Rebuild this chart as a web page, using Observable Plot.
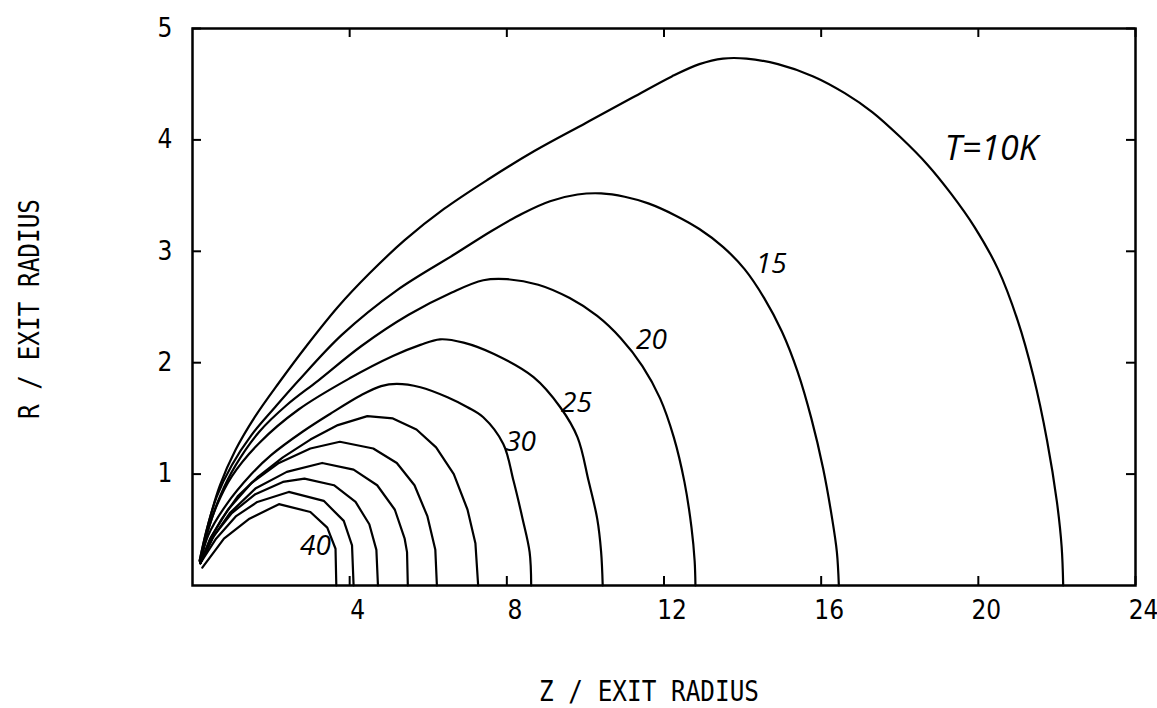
<!DOCTYPE html>
<html>
<head>
<meta charset="utf-8">
<script src="https://cdn.jsdelivr.net/npm/d3@7"></script>
<script src="https://cdn.jsdelivr.net/npm/@observablehq/plot@0.6"></script>
<style>
  html, body { margin: 0; padding: 0; background: #fff; }
</style>
</head>
<body>
<div id="chart"></div>
<script>
// Contours of constant temperature in the (Z, R) plane, outermost first.
// Each is a list of [Z / exit radius, R / exit radius] points.
const contour1 = [[0.18,0.22],[0.4,0.55],[0.7,0.9],[1.1,1.22],[1.6,1.52],[2.2,1.82],[2.9,2.15],[3.7,2.5],[4.5,2.8],[5.4,3.1],[6.4,3.38],[7.5,3.64],[8.7,3.9],[10.0,4.15],[11.2,4.38],[12.2,4.57],[12.9,4.68],[13.5,4.73],[14.1,4.73],[14.9,4.68],[15.8,4.57],[16.6,4.42],[17.3,4.25],[18.0,4.03],[18.7,3.78],[19.3,3.52],[19.9,3.22],[20.5,2.84],[21.0,2.38],[21.4,1.88],[21.75,1.3],[22.0,0.75],[22.12,0.35],[22.16,0]];
const contour2 = [[0.18,0.22],[0.36,0.5],[0.62,0.8],[1.0,1.08],[1.5,1.35],[2.1,1.6],[2.7,1.84],[3.8,2.25],[5.2,2.65],[6.7,2.98],[7.6,3.18],[8.4,3.34],[9.1,3.45],[9.8,3.51],[10.4,3.52],[11.0,3.49],[11.6,3.43],[12.3,3.32],[12.9,3.2],[13.5,3.04],[14.05,2.84],[14.55,2.58],[15.0,2.28],[15.4,1.92],[15.75,1.5],[16.05,1.05],[16.27,0.62],[16.4,0.3],[16.45,0]];
const contour3 = [[0.2,0.22],[0.4,0.5],[0.7,0.8],[1.1,1.08],[1.7,1.38],[2.4,1.62],[3.2,1.84],[4.3,2.15],[5.5,2.43],[6.6,2.63],[7.4,2.74],[8.0,2.75],[8.8,2.7],[9.6,2.58],[10.3,2.42],[10.9,2.22],[11.45,1.97],[11.9,1.68],[12.25,1.33],[12.52,0.93],[12.7,0.52],[12.78,0.22],[12.8,0]];
const contour4 = [[0.2,0.22],[0.38,0.48],[0.62,0.72],[1.0,0.98],[1.7,1.28],[2.7,1.58],[4.0,1.86],[5.1,2.06],[5.8,2.16],[6.3,2.21],[6.9,2.18],[7.66,2.08],[8.68,1.87],[9.36,1.6],[9.8,1.33],[10.08,0.94],[10.3,0.6],[10.4,0.3],[10.44,0]];
const contour5 = [[0.2,0.2],[0.4,0.45],[0.85,0.72],[1.5,1.0],[2.0,1.17],[2.8,1.38],[3.5,1.54],[4.3,1.71],[4.8,1.79],[5.2,1.81],[5.8,1.78],[6.49,1.69],[7.0,1.6],[7.4,1.51],[7.91,1.27],[8.17,0.94],[8.4,0.6],[8.58,0.3],[8.62,0]];
const contour6 = [[0.2,0.2],[0.45,0.42],[0.75,0.6],[1.15,0.8],[1.65,0.97],[2.3,1.15],[3.0,1.31],[3.7,1.44],[4.45,1.52],[5.1,1.5],[5.7,1.4],[6.2,1.24],[6.65,1.0],[7.0,0.68],[7.2,0.38],[7.27,0]];
const contour7 = [[0.2,0.2],[0.48,0.44],[0.9,0.68],[1.5,0.92],[2.2,1.1],[3.0,1.23],[3.75,1.29],[4.6,1.23],[5.2,1.1],[5.65,0.9],[5.98,0.62],[6.18,0.32],[6.22,0]];
const contour8 = [[0.2,0.2],[0.5,0.42],[0.95,0.65],[1.6,0.87],[2.4,1.02],[3.3,1.1],[4.1,1.04],[4.7,0.9],[5.15,0.68],[5.4,0.42],[5.46,0.3],[5.48,0]];
const contour9 = [[0.2,0.2],[0.55,0.45],[1.0,0.65],[1.6,0.82],[2.3,0.93],[2.85,0.96],[3.6,0.9],[4.15,0.75],[4.5,0.55],[4.68,0.32],[4.72,0]];
const contour10 = [[0.2,0.2],[0.6,0.42],[1.1,0.62],[1.65,0.75],[2.45,0.84],[3.34,0.76],[3.85,0.58],[4.06,0.36],[4.1,0]];
const contour11 = [[0.25,0.16],[0.8,0.42],[1.45,0.6],[2.2,0.73],[3.0,0.66],[3.43,0.52],[3.64,0.33],[3.66,0]];

const smoothContours = [contour1, contour2, contour3, contour4, contour5];
const coarseContours = [contour6, contour7, contour8, contour9, contour10, contour11];

// Hand-lettered temperature labels
const labelText = ["T=10K", "15", "20", "25", "30", "40"];
const labelZ = [20.33, 14.73, 11.68, 9.77, 8.35, 3.13];
const labelR = [3.92, 2.89, 2.2, 1.64, 1.29, 0.35];

const xTicks = [4, 8, 12, 16, 20, 24];
const yTicks = [1, 2, 3, 4, 5];
const xTitle = "Z / EXIT RADIUS";
const yTitle = "R / EXIT RADIUS";

const toRows = (list, offset) => list.flatMap((pts, i) => pts.map(([z, r]) => ({curve: i + offset, z, r})));
const smoothRows = toRows(smoothContours, 0);
const coarseRows = toRows(coarseContours, smoothContours.length);
const labels = labelText.map((text, i) => ({text, z: labelZ[i], r: labelR[i]}));

const axisFont = "'DejaVu Sans Condensed', 'DejaVu Sans', sans-serif";
const titleFont = "'DejaVu Sans Mono', 'Liberation Mono', monospace";
const handFont = "'Open Sans', Lato, sans-serif";

// Inward tick marks: a short rule inset from the opposite side of the frame
const W = 1157, H = 708, mL = 192, mR = 22, mT = 28, mB = 123, tick = 9;
const frameW = W - mL - mR, frameH = H - mT - mB;

const chart = Plot.plot({
  width: W,
  height: H,
  marginLeft: mL,
  marginRight: mR,
  marginTop: mT,
  marginBottom: mB,
  x: {domain: [0, 24]},
  y: {domain: [0, 5]},
  style: {background: "#fff", color: "#000", fontFamily: axisFont},
  marks: [
    Plot.line(smoothRows, {x: "z", y: "r", z: "curve", stroke: "#000", strokeWidth: 2.2, curve: "catmull-rom"}),
    Plot.line(coarseRows, {x: "z", y: "r", z: "curve", stroke: "#000", strokeWidth: 2.2, curve: "linear"}),
    Plot.ruleX(xTicks, {insetTop: frameH - tick, stroke: "#000", strokeWidth: 2}),
    Plot.ruleX(xTicks, {insetBottom: frameH - tick, stroke: "#000", strokeWidth: 2}),
    Plot.ruleY(yTicks, {insetRight: frameW - tick, stroke: "#000", strokeWidth: 2}),
    Plot.ruleY(yTicks, {insetLeft: frameW - tick, stroke: "#000", strokeWidth: 2}),
    Plot.frame({stroke: "#000", strokeWidth: 2.5}),
    Plot.axisX(xTicks, {anchor: "bottom", tickSize: 0, tickPadding: 15, fontSize: 26, dx: 8, tickFormat: "d", label: null}),
    Plot.axisY(yTicks, {anchor: "left", tickSize: 0, tickPadding: 20, fontSize: 26, tickFormat: "d", label: null}),
    Plot.text([xTitle], {frameAnchor: "bottom", textAnchor: "middle", lineAnchor: "middle", text: d => d, dx: -15, dy: 106, fontSize: 29, fontFamily: titleFont}),
    Plot.text([yTitle], {frameAnchor: "left", textAnchor: "middle", lineAnchor: "middle", text: d => d, rotate: -90, dx: -163, dy: 2, fontSize: 29, fontFamily: titleFont}),
    Plot.text(labels, {x: "z", y: "r", text: "text", fontSize: 28, fontStyle: "italic", fontFamily: handFont})
  ]
});

// Narrow the axis titles to the plotter lettering width
d3.select(chart).selectAll("text").each(function() {
  const t = this.textContent;
  if (t === xTitle || t === yTitle) d3.select(this).attr("textLength", 220).attr("lengthAdjust", "spacingAndGlyphs");
  if (t === "T=10K") d3.select(this).attr("font-size", 34);
});

document.getElementById("chart").appendChild(chart);
</script>
</body>
</html>
